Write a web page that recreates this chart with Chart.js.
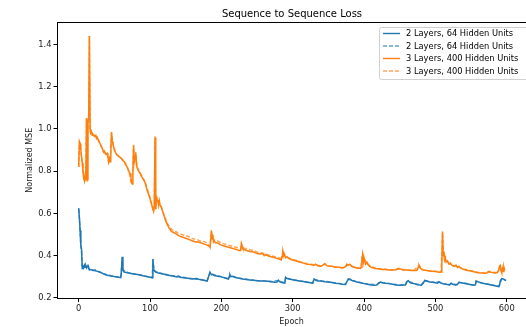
<!DOCTYPE html>
<html>
<head>
<meta charset="utf-8">
<script src="https://cdn.jsdelivr.net/npm/chart.js@4/dist/chart.umd.min.js"></script>
<style>
  html, body { margin: 0; padding: 0; background: #fff; }
  canvas { display: block; }
</style>
</head>
<body>
<canvas id="lossChart" width="526" height="327"></canvas>
<script>
// series labels
const seriesNames = [
    '2 Layers, 64 Hidden Units',
    '2 Layers, 64 Hidden Units',
    '3 Layers, 400 Hidden Units',
    '3 Layers, 400 Hidden Units'
];
const xTicks = [0, 100, 200, 300, 400, 500, 600];
const yTicks = [0.2, 0.4, 0.6, 0.8, 1.0, 1.2, 1.4];

// [epoch, normalized MSE]
const blueSolid = [
    [0,0.625],[1,0.58],[2,0.52],[3,0.45],[4,0.43],[5,0.34],[6,0.35],[7,0.343],[8,0.355],[9,0.345],
    [10,0.352],[11,0.342],[12,0.348],[13,0.358],[14,0.34],[15,0.333],[17,0.335],[20,0.33],[23,0.332],
    [25,0.327],[28,0.325],[30,0.322],[33,0.318],[36,0.312],[40,0.308],[44,0.305],[48,0.303],[52,0.30],
    [56,0.298],[59,0.296],[60,0.33],[61,0.395],[62,0.335],[63,0.325],[65,0.322],[70,0.318],[75,0.315],
    [80,0.312],[85,0.31],[90,0.305],[95,0.302],[100,0.298],[103,0.296],[104,0.385],[105,0.335],[106,0.33],
    [108,0.322],[112,0.318],[115,0.316],[120,0.312],[125,0.308],[130,0.305],[135,0.302],[138,0.30],
    [140,0.303],[142,0.298],[150,0.295],[155,0.292],[160,0.29],[165,0.292],[170,0.287],[175,0.284],
    [180,0.28],[182,0.30],[184,0.322],[186,0.31],[188,0.312],[190,0.306],[195,0.303],[200,0.30],
    [205,0.295],[210,0.29],[211,0.30],[212,0.31],[213,0.302],[215,0.303],[220,0.297],[225,0.293],
    [230,0.29],[235,0.288],[240,0.285],[245,0.284],[250,0.282],[255,0.28],[260,0.28],[265,0.279],
    [270,0.277],[275,0.275],[278,0.276],[280,0.284],[282,0.276],[286,0.272],[289,0.27],[290,0.298],
    [292,0.292],[295,0.29],[300,0.286],[305,0.283],[310,0.28],[315,0.278],[320,0.275],[325,0.272],
    [328,0.27],[330,0.29],[332,0.285],[335,0.28],[340,0.28],[345,0.277],[350,0.276],[355,0.273],
    [360,0.27],[365,0.268],[370,0.265],[374,0.264],[376,0.278],[378,0.29],[380,0.29],[383,0.283],
    [386,0.28],[390,0.276],[395,0.272],[400,0.268],[405,0.265],[410,0.262],[415,0.26],[418,0.262],
    [420,0.27],[423,0.275],[426,0.272],[430,0.27],[435,0.268],[440,0.265],[445,0.262],[450,0.26],
    [455,0.262],[458,0.262],[460,0.278],[462,0.282],[465,0.272],[470,0.268],[475,0.263],[480,0.26],
    [483,0.27],[485,0.283],[488,0.28],[492,0.276],[496,0.274],[500,0.272],[503,0.27],[505,0.277],
    [507,0.272],[510,0.268],[515,0.265],[520,0.262],[522,0.27],[524,0.265],[528,0.262],[531,0.265],
    [533,0.274],[536,0.272],[540,0.27],[545,0.266],[550,0.263],[554,0.26],[556,0.262],[557,0.28],
    [559,0.278],[562,0.274],[566,0.27],[570,0.267],[575,0.264],[580,0.26],[585,0.257],[589,0.254],
    [590,0.262],[591,0.282],[593,0.292],[595,0.29],[597,0.286],[599,0.282]
];

const blueDashed = [
    [0,0.62],[1,0.575],[2,0.515],[3,0.445],[4,0.425],[5,0.345],[7,0.347],[8,0.352],[10,0.35],[13,0.355],
    [15,0.335],[20,0.331],[30,0.322],[40,0.309],[50,0.302],[59,0.297],[61,0.39],[62,0.333],[70,0.319],
    [80,0.313],[90,0.306],[100,0.299],[103,0.297],[104,0.38],[106,0.328],[115,0.317],[130,0.306],
    [140,0.302],[150,0.296],[160,0.291],[170,0.288],[180,0.281],[184,0.32],[188,0.311],[200,0.301],
    [210,0.291],[212,0.308],[220,0.298],[230,0.291],[240,0.286],[250,0.283],[260,0.281],[270,0.278],
    [280,0.283],[289,0.271],[290,0.296],[300,0.287],[310,0.281],[320,0.276],[328,0.271],[330,0.288],
    [340,0.281],[350,0.277],[360,0.271],[370,0.266],[374,0.265],[378,0.289],[385,0.281],[395,0.273],
    [405,0.266],[418,0.263],[423,0.274],[430,0.271],[440,0.266],[450,0.261],[458,0.263],[461,0.28],
    [470,0.269],[480,0.261],[485,0.282],[495,0.275],[505,0.276],[510,0.269],[520,0.263],[522,0.269],
    [530,0.263],[533,0.273],[540,0.271],[550,0.264],[556,0.263],[557,0.279],[565,0.271],[575,0.265],
    [585,0.258],[589,0.255],[593,0.29],[597,0.287],[599,0.283]
];

const orangeSolid = [
    [0,0.82],[1,0.94],[2,0.93],[3,0.90],[4,0.87],[5,0.84],[6,0.80],[7,0.77],[8,0.755],[9,0.78],
    [10,0.76],[11,1.05],[12,0.76],[13,1.04],[14,1.05],[15,1.44],[16,1.00],[17,0.98],[18,0.985],
    [19,0.97],[20,0.975],[22,0.965],[24,0.97],[25,0.955],[26,0.96],[28,0.945],[30,0.93],[32,0.915],
    [34,0.90],[35,0.89],[36,0.895],[38,0.88],[40,0.885],[41,0.87],[42,0.845],[43,0.86],[44,0.845],
    [45,0.89],[46,0.985],[47,0.94],[48,0.93],[50,0.90],[52,0.885],[54,0.875],[56,0.87],[58,0.865],
    [60,0.86],[62,0.85],[64,0.845],[66,0.83],[68,0.82],[70,0.80],[72,0.79],[73,0.775],[74,0.745],
    [75,0.74],[76,0.80],[77,0.92],[78,0.84],[79,0.87],[80,0.89],[81,0.83],[82,0.815],[84,0.80],
    [86,0.79],[88,0.775],[90,0.765],[92,0.755],[94,0.735],[96,0.71],[98,0.69],[100,0.67],[102,0.645],
    [104,0.62],[105,0.61],[106,0.64],[107,0.96],[108,0.62],[109,0.67],[110,0.655],[111,0.665],
    [112,0.64],[113,0.66],[114,0.64],[116,0.63],[118,0.605],[120,0.585],[122,0.565],[124,0.55],
    [126,0.535],[128,0.525],[130,0.515],[133,0.51],[136,0.505],[140,0.495],[144,0.49],[148,0.485],
    [152,0.48],[156,0.475],[160,0.47],[164,0.465],[168,0.465],[172,0.46],[176,0.455],[180,0.45],
    [183,0.445],[184,0.44],[185,0.47],[186,0.52],[187,0.48],[188,0.50],[189,0.465],[190,0.47],
    [192,0.46],[195,0.46],[200,0.45],[205,0.445],[210,0.44],[215,0.435],[220,0.43],[225,0.425],
    [227,0.425],[228,0.455],[229,0.445],[230,0.435],[232,0.43],[235,0.425],[240,0.42],[245,0.418],
    [250,0.41],[255,0.408],[258,0.41],[260,0.40],[262,0.405],[265,0.40],[270,0.395],[275,0.39],
    [280,0.385],[284,0.38],[285,0.395],[286,0.425],[287,0.40],[288,0.41],[290,0.39],[292,0.395],
    [295,0.385],[300,0.38],[305,0.375],[310,0.37],[315,0.365],[320,0.36],[325,0.358],[330,0.355],
    [332,0.36],[334,0.355],[338,0.35],[340,0.35],[342,0.355],[345,0.362],[348,0.352],[352,0.35],
    [356,0.35],[360,0.345],[365,0.345],[370,0.342],[374,0.348],[376,0.36],[378,0.355],[380,0.36],
    [383,0.35],[386,0.345],[390,0.342],[395,0.34],[396,0.345],[397,0.38],[398,0.405],[399,0.37],
    [400,0.39],[402,0.36],[404,0.37],[406,0.355],[408,0.35],[410,0.345],[415,0.34],[420,0.338],
    [425,0.335],[430,0.335],[435,0.333],[440,0.332],[445,0.333],[448,0.34],[450,0.338],[455,0.332],
    [460,0.333],[465,0.33],[470,0.33],[474,0.33],[476,0.345],[477,0.355],[479,0.34],[482,0.333],
    [488,0.33],[495,0.327],[500,0.325],[505,0.322],[508,0.323],[509,0.35],[510,0.515],[511,0.40],
    [512,0.42],[513,0.38],[514,0.39],[515,0.37],[517,0.375],[519,0.36],[521,0.365],[523,0.355],
    [526,0.35],[529,0.355],[531,0.345],[533,0.35],[535,0.342],[538,0.338],[540,0.335],[545,0.33],
    [550,0.328],[555,0.323],[560,0.32],[565,0.318],[570,0.317],[573,0.32],[575,0.326],[577,0.322],
    [580,0.32],[584,0.318],[587,0.32],[589,0.335],[590,0.352],[591,0.355],[592,0.33],[593,0.32],
    [594,0.34],[595,0.325],[596,0.345],[597,0.33]
];

const orangeDashed = [
    [0,0.82],[1,0.94],[3,0.90],[5,0.84],[7,0.77],[8,0.75],[10,0.76],[11,1.05],[12,0.75],[13,1.05],
    [14,1.04],[15,1.44],[16,0.99],[17,0.98],[20,0.975],[25,0.96],[30,0.93],[35,0.89],[40,0.88],
    [42,0.84],[44,0.85],[45,0.89],[46,0.98],[48,0.93],[52,0.885],[60,0.86],[66,0.835],[70,0.805],
    [74,0.74],[76,0.81],[77,0.925],[78,0.84],[80,0.88],[82,0.82],[88,0.78],[94,0.74],[100,0.675],
    [105,0.61],[106,0.63],[107,0.965],[108,0.62],[110,0.675],[113,0.65],[118,0.61],[124,0.555],
    [130,0.525],[136,0.515],[140,0.505],[145,0.50],[150,0.495],[155,0.49],[160,0.48],[165,0.478],
    [170,0.47],[175,0.468],[180,0.46],[184,0.445],[186,0.515],[188,0.48],[190,0.475],[195,0.47],
    [200,0.46],[205,0.455],[210,0.45],[215,0.445],[220,0.44],[227,0.432],[228,0.46],[230,0.44],
    [235,0.432],[240,0.428],[245,0.425],[250,0.418],[255,0.415],[260,0.41],[265,0.405],[270,0.40],
    [275,0.395],[280,0.39],[285,0.385],[286,0.43],[288,0.405],[290,0.395],[300,0.383],[310,0.372],
    [320,0.362],[330,0.357],[340,0.352],[345,0.36],[350,0.352],[360,0.347],[370,0.343],[378,0.357],
    [385,0.347],[395,0.341],[398,0.41],[400,0.385],[404,0.365],[410,0.347],[420,0.339],[430,0.336],
    [440,0.333],[450,0.337],[460,0.333],[470,0.331],[477,0.354],[482,0.334],[490,0.329],[500,0.326],
    [508,0.324],[510,0.51],[511,0.41],[513,0.385],[515,0.375],[520,0.362],[525,0.352],[530,0.352],
    [535,0.344],[540,0.337],[550,0.329],[560,0.321],[570,0.318],[575,0.325],[580,0.321],[588,0.322],
    [590,0.35],[592,0.333],[594,0.338],[596,0.34],[597,0.332]
];

const blue = '#1f77b4';
const blueLight = 'rgba(31,119,180,0.7)';
const orange = '#ff7f0e';
const orangeLight = 'rgba(255,127,14,0.7)';
const dash = [4, 2];
const font = 'DejaVu Sans';

function toPoints(pairs) {
    return pairs.map(p => ({ x: p[0], y: p[1] }));
}

const styles = [
    { color: blue, dash: [] },
    { color: blueLight, dash: dash },
    { color: orange, dash: [] },
    { color: orangeLight, dash: dash }
];

// title, top spine and matplotlib style legend
const extras = {
    id: 'extras',
    afterDraw(chart) {
        const ctx = chart.ctx;
        const a = chart.chartArea;
        ctx.save();
        ctx.fillStyle = '#000';
        ctx.font = '10px "' + font + '"';
        ctx.textAlign = 'center';
        ctx.textBaseline = 'middle';
        ctx.fillText('Sequence to Sequence Loss', 292, 14);

        ctx.strokeStyle = '#000';
        ctx.lineWidth = 1;
        ctx.beginPath();
        ctx.moveTo(a.left, a.top + 0.5);
        ctx.lineTo(a.right, a.top + 0.5);
        ctx.stroke();

        // legend box
        const bx = 379.5, by = 27.5, bw = 160, bh = 52, r = 2;
        ctx.fillStyle = 'rgba(255,255,255,0.8)';
        ctx.strokeStyle = '#d0d0d0';
        ctx.beginPath();
        ctx.moveTo(bx + r, by);
        ctx.lineTo(bx + bw - r, by);
        ctx.arcTo(bx + bw, by, bx + bw, by + r, r);
        ctx.lineTo(bx + bw, by + bh - r);
        ctx.arcTo(bx + bw, by + bh, bx + bw - r, by + bh, r);
        ctx.lineTo(bx + r, by + bh);
        ctx.arcTo(bx, by + bh, bx, by + bh - r, r);
        ctx.lineTo(bx, by + r);
        ctx.arcTo(bx, by, bx + r, by, r);
        ctx.closePath();
        ctx.fill();
        ctx.stroke();

        ctx.font = '8.3px "' + font + '"';
        ctx.textAlign = 'left';
        seriesNames.forEach((name, i) => {
            const y = 33.5 + i * 12.5;
            ctx.strokeStyle = styles[i].color;
            ctx.lineWidth = 1.4;
            ctx.setLineDash(styles[i].dash);
            ctx.beginPath();
            ctx.moveTo(383, y);
            ctx.lineTo(400, y);
            ctx.stroke();
            ctx.setLineDash([]);
            ctx.fillStyle = '#000';
            ctx.fillText(name, 406, y + 0.5);
        });
        ctx.restore();
    }
};

const seriesData = [blueSolid, blueDashed, orangeSolid, orangeDashed];

const lossChart = new Chart(document.getElementById('lossChart'), {
    type: 'line',
    data: {
        datasets: seriesData.map((pairs, i) => ({
            label: seriesNames[i],
            data: toPoints(pairs),
            borderColor: styles[i].color,
            borderDash: styles[i].dash,
            borderWidth: 1.5,
            pointRadius: 0,
            tension: 0,
            fill: false
        }))
    },
    options: {
        responsive: false,
        animation: false,
        devicePixelRatio: 1,
        layout: { padding: { top: 22, left: 0, right: 0, bottom: 0 } },
        plugins: {
            legend: { display: false },
            tooltip: { enabled: false }
        },
        scales: {
            x: {
                type: 'linear',
                min: -30.4,
                max: 627,
                afterBuildTicks: s => { s.ticks = xTicks.map(v => ({ value: v })); },
                afterFit: s => { s.height = 28.5; },
                grid: { drawOnChartArea: false, drawTicks: true, tickLength: 3.5, color: '#000' },
                border: { color: '#000', width: 1 },
                ticks: { color: '#222', font: { family: font, size: 8.3 }, padding: 2, maxRotation: 0 },
                title: { display: true, text: 'Epoch', color: '#222', font: { family: font, size: 8 }, padding: { top: 0, bottom: 0 } }
            },
            y: {
                min: 0.1976,
                max: 1.506,
                afterBuildTicks: s => { s.ticks = yTicks.map(v => ({ value: v })); },
                afterFit: s => { s.width = 57; },
                grid: { drawOnChartArea: false, drawTicks: true, tickLength: 3.5, color: '#000' },
                border: { color: '#000', width: 1 },
                ticks: { color: '#222', font: { family: font, size: 8.3 }, padding: 2, callback: v => v.toFixed(1) },
                title: { display: true, text: 'Normalized MSE', color: '#222', font: { family: font, size: 8 }, padding: { top: 25, bottom: 0 } }
            }
        }
    },
    plugins: [extras]
});
</script>
</body>
</html>
